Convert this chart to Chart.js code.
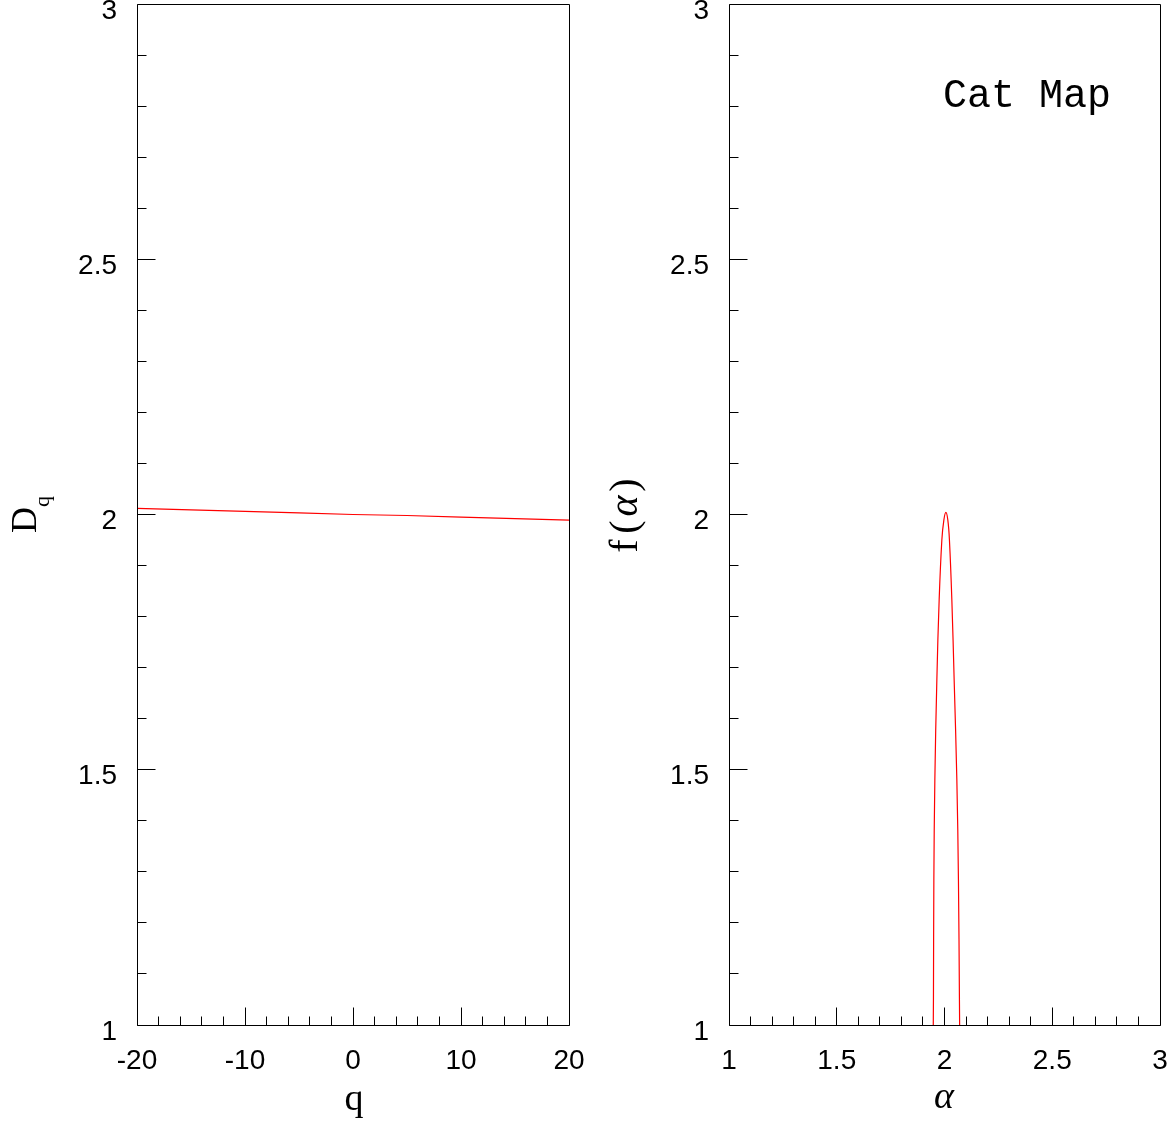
<!DOCTYPE html>
<html><head><meta charset="utf-8">
<script src="https://cdn.jsdelivr.net/npm/chart.js@4.4.0/dist/chart.umd.min.js"></script>
<style>
html,body{margin:0;padding:0;background:#fff;overflow:hidden;}
#wrap{position:relative;width:1175px;height:1122px;background:#fff;}
#c1{position:absolute;left:0;top:0;width:590px;height:1122px;}
#c2{position:absolute;left:590px;top:0;width:585px;height:1122px;}
</style></head><body>
<div id="wrap"><canvas id="c1" width="590" height="1122"></canvas><canvas id="c2" width="585" height="1122"></canvas></div>
<script>
// ---- data ----
const qValues  = [-20, -15, -10, -5, 0, 5, 10, 15, 20];
const dqValues = [2.012, 2.009, 2.006, 2.003, 2.000, 1.998, 1.995, 1.992, 1.989];

const alphaValues = [1.9470, 1.9487, 1.9506, 1.9552, 1.9645, 1.9752, 1.9877, 1.9970, 2.0065, 2.0155, 2.0229, 2.0341, 2.0448, 2.0573, 2.0647, 2.0693, 2.0710];
const fValues     = [0.95, 1.05, 1.284, 1.48, 1.676, 1.8325, 1.950, 1.989, 2.004, 1.989, 1.950, 1.8325, 1.676, 1.48, 1.284, 1.05, 0.95];

const yTickValues = [1, 1.5, 2, 2.5, 3];
const qTickLabels = [-20, -10, 0, 10, 20];
const alphaTickLabels = [1, 1.5, 2, 2.5, 3];

Chart.defaults.font.family = "'Liberation Sans', Arial, sans-serif";
Chart.defaults.font.size = 28;
Chart.defaults.color = '#000';

const framePlugin = {
  id: 'frame',
  afterDraw(chart, args, opts) {
    const {ctx, chartArea: a, scales: {x, y}} = chart;
    const f = v => Math.floor(v) + 0.5;
    const L = f(a.left), R = f(a.right), T = f(a.top), B = f(a.bottom);
    ctx.save();
    ctx.strokeStyle = '#000';
    ctx.lineWidth = 1;
    ctx.beginPath();
    ctx.moveTo(L, T); ctx.lineTo(R, T); ctx.lineTo(R, B); ctx.lineTo(L, B); ctx.closePath();
    ctx.stroke();
    const nx = Math.round((x.max - x.min) / opts.xMinor);
    ctx.beginPath();
    for (let i = 0; i <= nx; i++) {
      const v = x.min + i * opts.xMinor;
      const major = Math.abs(v / opts.xMajor - Math.round(v / opts.xMajor)) < 1e-6;
      const px = f(x.getPixelForValue(v));
      ctx.moveTo(px, B); ctx.lineTo(px, B - (major ? 18 : 9));
    }
    const ny = Math.round((y.max - y.min) / opts.yMinor);
    for (let i = 0; i <= ny; i++) {
      const v = y.min + i * opts.yMinor;
      const major = Math.abs(v / opts.yMajor - Math.round(v / opts.yMajor)) < 1e-6;
      const py = f(y.getPixelForValue(v));
      ctx.moveTo(L, py); ctx.lineTo(L + (major ? 18 : 9), py);
    }
    ctx.stroke();
    ctx.fillStyle = '#000';
    ctx.textBaseline = 'alphabetic';
    for (const t of opts.texts) {
      ctx.save();
      ctx.font = t.font;
      ctx.textAlign = t.align || 'left';
      ctx.translate(t.x, t.y);
      if (t.rot) ctx.rotate(t.rot * Math.PI / 180);
      ctx.fillText(t.text, 0, 0);
      ctx.restore();
    }
    ctx.restore();
  }
};

const fmt = v => String(Math.round(v * 1000) / 1000);

function makeChart(id, cfg) {
  return new Chart(document.getElementById(id), {
    type: 'line',
    data: { datasets: [{
      data: cfg.xs.map((v, i) => ({x: v, y: cfg.ys[i]})),
      borderColor: '#ff0000', borderWidth: 1.2, pointRadius: 0, tension: cfg.tension, fill: false
    }]},
    options: {
      responsive: false, animation: false, events: [],
      layout: { padding: { left: 0, right: cfg.padRight, top: 4, bottom: 0 } },
      plugins: { legend: {display: false}, tooltip: {enabled: false}, frame: cfg.frame },
      scales: {
        x: { type: 'linear', min: cfg.xTicks[0], max: cfg.xTicks[cfg.xTicks.length - 1],
             grid: {display: false, drawTicks: false}, border: {display: false},
             afterBuildTicks(s) { s.ticks = cfg.xTicks.map(v => ({value: v})); },
             ticks: { padding: 19, color: '#000', maxRotation: 0, autoSkip: false, callback: v => fmt(v) },
             afterFit(s) { s.height = 97; s.paddingLeft = 0; s.paddingRight = 0; } },
        y: { type: 'linear', min: 1, max: 3,
             grid: {display: false, drawTicks: false}, border: {display: false},
             afterBuildTicks(s) { s.ticks = yTickValues.map(v => ({value: v})); },
             ticks: { padding: 20, labelOffset: 7, color: '#000', callback: v => fmt(v) },
             afterFit(s) { s.width = cfg.yWidth; s.paddingTop = 0; s.paddingBottom = 0; } }
      }
    },
    plugins: [framePlugin]
  });
}

const serif = '"Liberation Serif", "Times New Roman", serif';

makeChart('c1', {
  xs: qValues, ys: dqValues, tension: 0, padRight: 21, yWidth: 137,
  xTicks: qTickLabels,
  frame: {
    xMinor: 2, xMajor: 10, yMinor: 0.1, yMajor: 0.5,
    texts: [
      {text: 'q', x: 354, y: 1110, font: '38px ' + serif, align: 'center'},
      {text: 'D', x: 36, y: 533, rot: -90, font: '36px ' + serif},
      {text: 'q', x: 49, y: 507, rot: -90, font: '22px ' + serif}
    ]
  }
});

makeChart('c2', {
  xs: alphaValues, ys: fValues, tension: 0.4, padRight: 15, yWidth: 139,
  xTicks: alphaTickLabels,
  frame: {
    xMinor: 0.1, xMajor: 0.5, yMinor: 0.1, yMajor: 0.5,
    texts: [
      {text: 'α', x: 354, y: 1108, font: 'italic 38px ' + serif, align: 'center'},
      {text: 'f', x: 47, y: 546, rot: -90, font: '40px ' + serif, align: 'center'},
      {text: '(', x: 47, y: 527, rot: -90, font: '40px ' + serif, align: 'center'},
      {text: 'α', x: 47, y: 506, rot: -90, font: 'italic 40px ' + serif, align: 'center'},
      {text: ')', x: 47, y: 485, rot: -90, font: '40px ' + serif, align: 'center'},
      {text: 'Cat Map', x: 353, y: 107, font: '40px "Liberation Mono", "Courier New", monospace', align: 'left'}
    ]
  }
});
</script>
</body></html>
